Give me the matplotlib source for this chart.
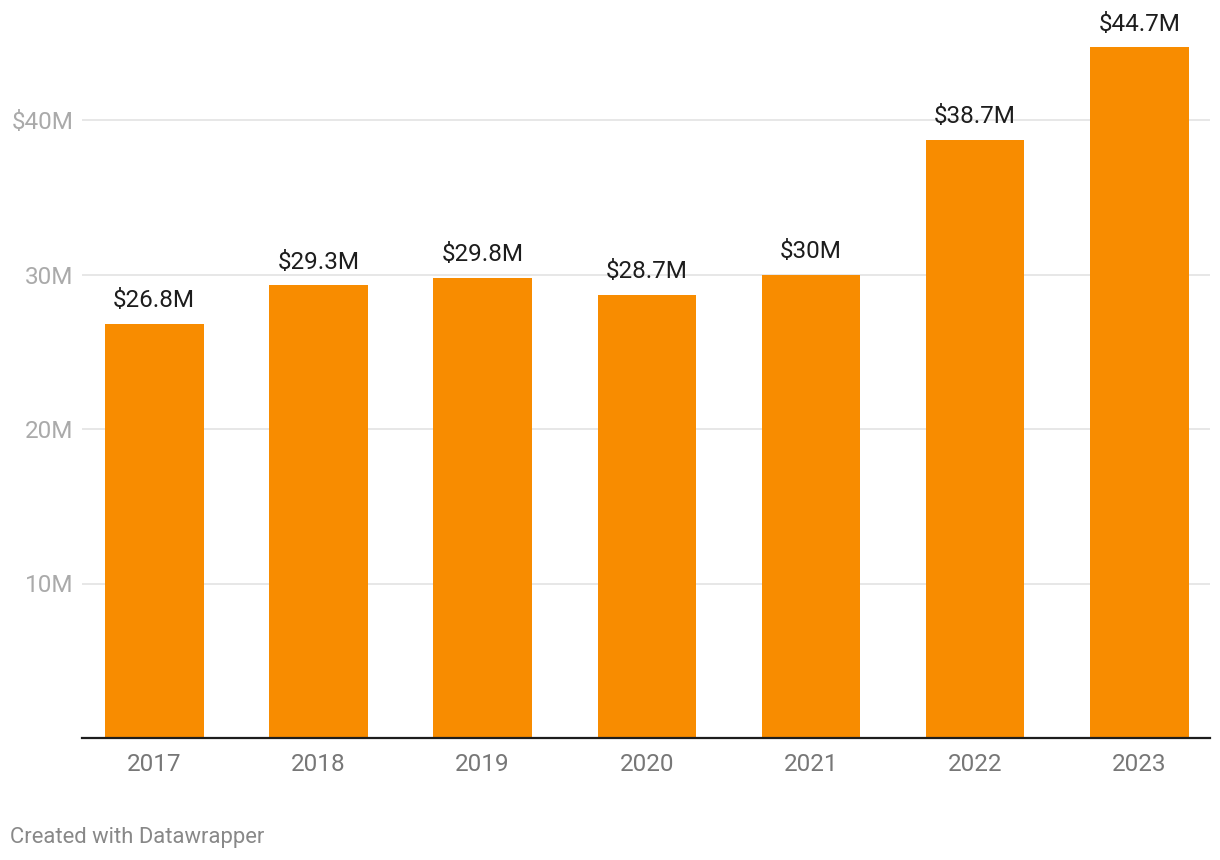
import matplotlib.pyplot as plt

years = ["2017", "2018", "2019", "2020", "2021", "2022", "2023"]
revenue = [26.8, 29.3, 29.8, 28.7, 30.0, 38.7, 44.7]
value_labels = ["$26.8M", "$29.3M", "$29.8M", "$28.7M", "$30M", "$38.7M", "$44.7M"]
y_ticks = [10, 20, 30, 40]
y_tick_labels = ["10M", "20M", "30M", "$40M"]

plt.rcParams['font.family'] = ['Roboto', 'DejaVu Sans']

W, H = 1220, 860
fig = plt.figure(figsize=(W / 100, H / 100), dpi=100)

# axes in pixel terms: x from 82 to 1210, baseline at y=738, 10M = 154.5 px
ymax = 46.0
px_per_unit = 15.45
bottom_px = 738
top_px = bottom_px - ymax * px_per_unit
ax = fig.add_axes([82 / W, (H - bottom_px) / H, (1210 - 82) / W, (bottom_px - top_px) / H])

x = range(len(years))
ax.bar(x, revenue, width=0.6, color='#f88c00', zorder=2)

for i, v in enumerate(revenue):
    ax.text(i, v + 0.75, value_labels[i], ha='center', va='bottom',
            fontsize=17.5, color='#1d1d1d')

ax.set_xlim(-0.44, 6.43)
ax.set_ylim(0, ymax)

ax.set_yticks(y_ticks)
ax.set_yticklabels(y_tick_labels)
ax.grid(axis='y', color='#e3e3e3', linewidth=1.2, zorder=0)
ax.tick_params(axis='y', length=0, pad=6, labelsize=17.5, labelcolor='#aaaaaa')

ax.set_xticks(list(x))
ax.set_xticklabels(years)
ax.tick_params(axis='x', length=0, pad=11, labelsize=17.5, labelcolor='#777777')

for side in ['top', 'right', 'left']:
    ax.spines[side].set_visible(False)
ax.spines['bottom'].set_color('#1d1d1d')
ax.spines['bottom'].set_linewidth(1.6)
ax.spines['bottom'].set_zorder(3)

fig.text(10 / W, 1 - 838 / H, "Created with Datawrapper", fontsize=15.8,
         color='#888888', ha='left', va='center')

fig.savefig("out.png", dpi=100, facecolor='white')
